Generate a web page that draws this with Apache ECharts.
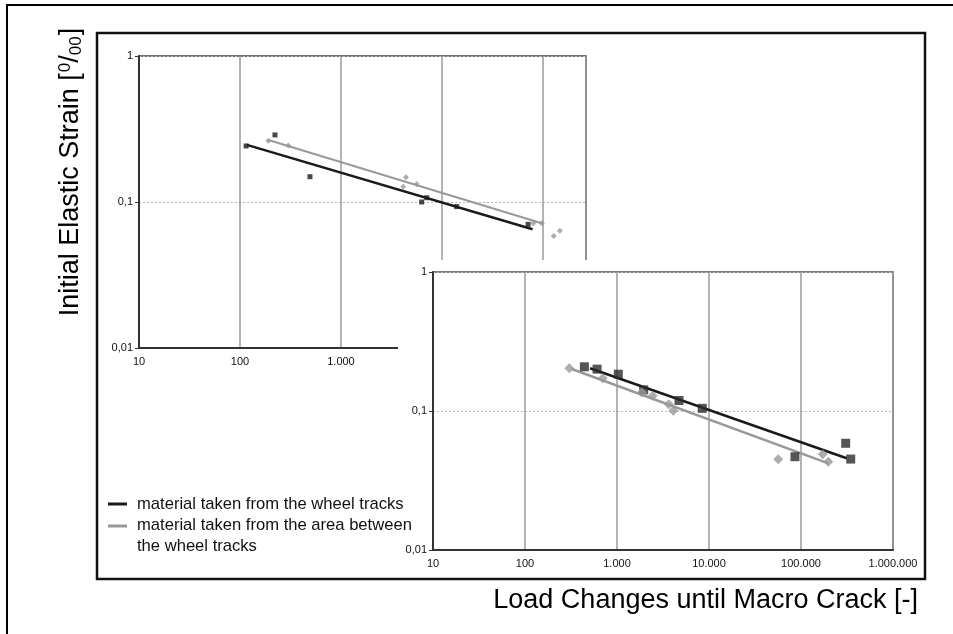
<!DOCTYPE html>
<html>
<head>
<meta charset="utf-8">
<script src="https://cdn.jsdelivr.net/npm/echarts@6/dist/echarts.min.js"></script>
<style>
  html, body { margin: 0; padding: 0; background: #fff; }
  #chart { width: 953px; height: 634px; }
</style>
</head>
<body>
<div id="chart"></div>
<script>
// upper (older) diagram
var topWheelN = [115, 222, 493, 6300, 7070, 14000, 71400];
var topWheelStrain = [0.242, 0.288, 0.149, 0.100, 0.107, 0.093, 0.0703];
var topBetweenN = [191, 301, 4140, 4400, 5620, 80200, 97000, 128000, 147000];
var topBetweenStrain = [0.263, 0.244, 0.127, 0.148, 0.133, 0.0715, 0.0715, 0.0585, 0.0636];
var topWheelFitN = [117, 79000];
var topWheelFitStrain = [0.246, 0.065];
var topBetweenFitN = [191, 103000];
var topBetweenFitStrain = [0.266, 0.0707];

// lower (front) diagram
var lowWheelN = [442, 607, 1033, 1950, 4720, 8450, 86000, 306000, 347000];
var lowWheelStrain = [0.208, 0.200, 0.184, 0.142, 0.119, 0.1045, 0.0469, 0.0586, 0.0451];
var lowBetweenN = [303, 700, 1860, 2445, 3650, 4090, 56600, 172000, 198000];
var lowBetweenStrain = [0.203, 0.172, 0.136, 0.129, 0.112, 0.1005, 0.0449, 0.0488, 0.0432];
var lowWheelFitN = [509, 314000];
var lowWheelFitStrain = [0.203, 0.0457];
var lowBetweenFitN = [322, 198000];
var lowBetweenFitStrain = [0.2005, 0.042];

var legendNames = [
  "material taken from the wheel tracks",
  "material taken from the area between\nthe wheel tracks",
];

var FONT = "'Liberation Sans', Arial, sans-serif";
var BLACK = "#1a1a1a";
var GREY = "#999999";

function pairs(xs, ys) {
  return xs.map(function (x, i) {
    return [x, ys[i]];
  });
}
function fmtN(v) {
  return Math.round(v).toString().replace(/\B(?=(\d{3})+(?!\d))/g, ".");
}
function fmtS(v) {
  return String(+v.toPrecision(2)).replace(".", ",");
}

function xAxisFor(idx, max, z) {
  return {
    type: "log",
    logBase: 10,
    gridIndex: idx,
    min: 10,
    max: max,
    interval: 1,
    z: z,
    axisLine: { show: true, lineStyle: { color: "#333", width: 2 } },
    axisTick: { show: false },
    axisLabel: {
      formatter: fmtN,
      fontFamily: FONT,
      fontSize: 11,
      color: "#111",
      margin: 8,
      showMaxLabel: idx === 1,
    },
    splitLine: { show: true, lineStyle: { color: "#9a9a9a", width: 1.5 } },
  };
}
function yAxisFor(idx, z) {
  return {
    type: "log",
    logBase: 10,
    gridIndex: idx,
    min: 0.01,
    max: 1,
    interval: 1,
    z: z,
    axisLine: { show: true, lineStyle: { color: "#333", width: 2 } },
    axisTick: { show: true, length: 4, lineStyle: { color: "#333" } },
    axisLabel: {
      formatter: fmtS,
      fontFamily: FONT,
      fontSize: 11,
      color: "#111",
      margin: 6,
    },
    splitLine: {
      show: true,
      lineStyle: { color: "#b8b8b8", width: 1, type: [2, 2] },
    },
  };
}

function scatter(idx, xs, ys, shape, size, color, z) {
  return {
    type: "scatter",
    xAxisIndex: idx,
    yAxisIndex: idx,
    symbol: shape,
    symbolSize: size,
    itemStyle: { color: color },
    data: pairs(xs, ys),
    z: z,
  };
}
function fit(idx, xs, ys, color, width, z) {
  return {
    type: "line",
    xAxisIndex: idx,
    yAxisIndex: idx,
    showSymbol: false,
    lineStyle: { color: color, width: width },
    data: pairs(xs, ys),
    z: z,
  };
}

var chart = echarts.init(document.getElementById("chart"), null, {
  renderer: "canvas",
});

var option = {
  animation: false,
  backgroundColor: "#fff",
  grid: [
    {
      left: 139,
      top: 56,
      width: 447,
      height: 292,
      show: true,
      borderColor: "#444",
      borderWidth: 1.5,
      z: 0,
    },
    {
      left: 433,
      top: 272,
      width: 460,
      height: 278,
      show: true,
      borderColor: "#555",
      borderWidth: 1.5,
      backgroundColor: "#fff",
      z: 11,
    },
  ],
  xAxis: [xAxisFor(0, 267000, 0), xAxisFor(1, 1000000, 11)],
  yAxis: [yAxisFor(0, 0), yAxisFor(1, 11)],
  series: [
    fit(0, topWheelFitN, topWheelFitStrain, BLACK, 2.5, 2),
    fit(0, topBetweenFitN, topBetweenFitStrain, GREY, 2, 2),
    scatter(0, topWheelN, topWheelStrain, "rect", 5, BLACK, 3),
    scatter(0, topBetweenN, topBetweenStrain, "diamond", 6, GREY, 3),
    fit(1, lowWheelFitN, lowWheelFitStrain, BLACK, 2.5, 13),
    fit(1, lowBetweenFitN, lowBetweenFitStrain, GREY, 2.5, 13),
    scatter(1, lowWheelN, lowWheelStrain, "rect", 9, "#2a2a2a", 14),
    scatter(1, lowBetweenN, lowBetweenStrain, "diamond", 10, GREY, 14),
  ],
  graphic: [
    // white card of the front diagram, hides the one behind
    {
      type: "rect",
      z: 10,
      shape: { x: 398, y: 260, width: 522, height: 316 },
      style: { fill: "#fff" },
    },
    // outer page border
    {
      type: "polyline",
      z: 30,
      shape: { points: [[7, 640], [7, 5], [960, 5]] },
      style: { stroke: "#000", lineWidth: 2, fill: null },
    },
    // inner frame
    {
      type: "rect",
      z: 30,
      shape: { x: 97, y: 33, width: 828, height: 546 },
      style: { stroke: "#111", lineWidth: 2.5, fill: null },
    },
    // legend
    {
      type: "line",
      z: 30,
      shape: { x1: 108, y1: 504, x2: 127, y2: 504 },
      style: { stroke: BLACK, lineWidth: 3 },
    },
    {
      type: "line",
      z: 30,
      shape: { x1: 108, y1: 526, x2: 127, y2: 526 },
      style: { stroke: GREY, lineWidth: 3 },
    },
    {
      type: "text",
      z: 30,
      x: 137,
      y: 504,
      style: {
        text: legendNames[0],
        font: "16.6px " + FONT,
        fill: "#111",
        verticalAlign: "middle",
      },
    },
    {
      type: "text",
      z: 30,
      x: 137,
      y: 515,
      style: {
        text: legendNames[1],
        font: "16.6px " + FONT,
        lineHeight: 21,
        fill: "#111",
        verticalAlign: "top",
      },
    },
    // axis titles
    {
      type: "text",
      z: 30,
      x: 71,
      y: 172,
      rotation: Math.PI / 2,
      style: {
        text: "{a|Initial Elastic Strain [}{sup|0}{a|/}{sub|00}{a|]}",
        align: "center",
        verticalAlign: "middle",
        fill: "#000",
        rich: {
          a: { fontFamily: FONT, fontSize: 27, lineHeight: 34, fill: "#000" },
          sup: {
            fontFamily: FONT,
            fontSize: 17,
            verticalAlign: "top",
            padding: [3, 0, 0, 1],
            fill: "#000",
          },
          sub: {
            fontFamily: FONT,
            fontSize: 17,
            verticalAlign: "bottom",
            padding: [0, 1, 3, 0],
            fill: "#000",
          },
        },
      },
    },
    {
      type: "text",
      z: 30,
      x: 918,
      y: 601,
      style: {
        text: "Load Changes until Macro Crack [-]",
        font: "27px " + FONT,
        fill: "#000",
        align: "right",
        verticalAlign: "middle",
      },
    },
  ],
};

chart.setOption(option);
</script>
</body>
</html>
